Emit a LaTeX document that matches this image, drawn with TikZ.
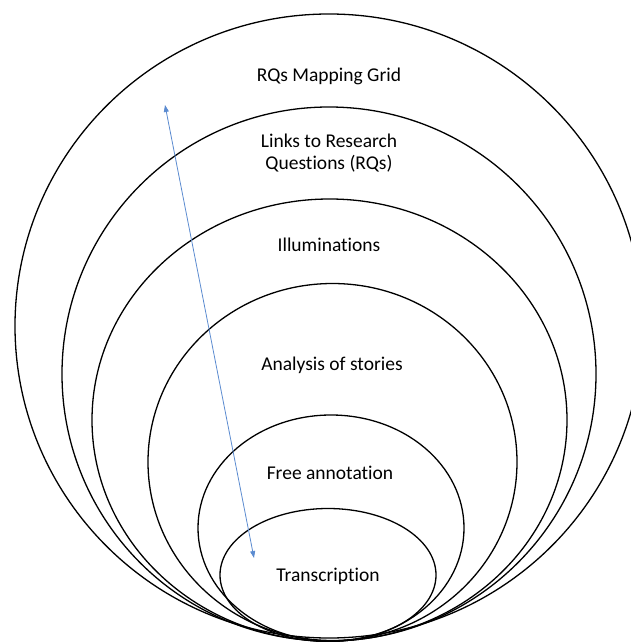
\documentclass[tikz,border=0pt]{standalone}
\usepackage{fontspec}
\setmainfont{Carlito}[Ligatures=NoCommon]
\usetikzlibrary{arrows.meta}

\begin{document}
\begin{tikzpicture}[x=1pt,y=-1pt]
\tikzset{ring/.style=
            {draw=black, line width=1.3pt},
         label text/.style=
            {align=center, font=\fontsize{19.5}{22}\selectfont},
         link arrow/.style=
            {draw={rgb,255:red,91;green,139;blue,208}, line width=0.8pt,
             {Triangle[length=7pt,width=5pt]}-{Triangle[length=7pt,width=5pt]}}}
\useasboundingbox (0,0) rectangle (631,642);
\clip (0,0) rectangle (631,642);
% nested rings, all touching at the bottom
\draw [ring] (329,326) ellipse [x radius=314, y radius=312];
\draw [ring] (329,374) ellipse [x radius=267, y radius=267];
\draw [ring] (329.5,420) ellipse [x radius=237.5, y radius=221];
\draw [ring] (332.5,462) ellipse [x radius=184.5, y radius=178.5];
\draw [ring] (331,528) ellipse [x radius=133, y radius=113];
\draw [ring] (328,575) ellipse [x radius=108, y radius=66.5];
% labels
\node [label text] (grid) at (329,76) {RQs Mapping Grid};
\node [label text] (links) at (329,153) {Links to Research\\Questions (RQs)};
\node [label text] (illum) at (329,245) {Illuminations};
\node [label text] (stories) at (332,365) {Analysis of stories};
\node [label text] (annot) at (330,473) {Free annotation};
\node [label text] (transc) at (328,576) {Transcription};
% arrow across the layers
\coordinate (top end) at (165,105);
\coordinate (bottom end) at (254,558);
\draw [link arrow] (bottom end) -- (top end);
\end{tikzpicture}
\end{document}
